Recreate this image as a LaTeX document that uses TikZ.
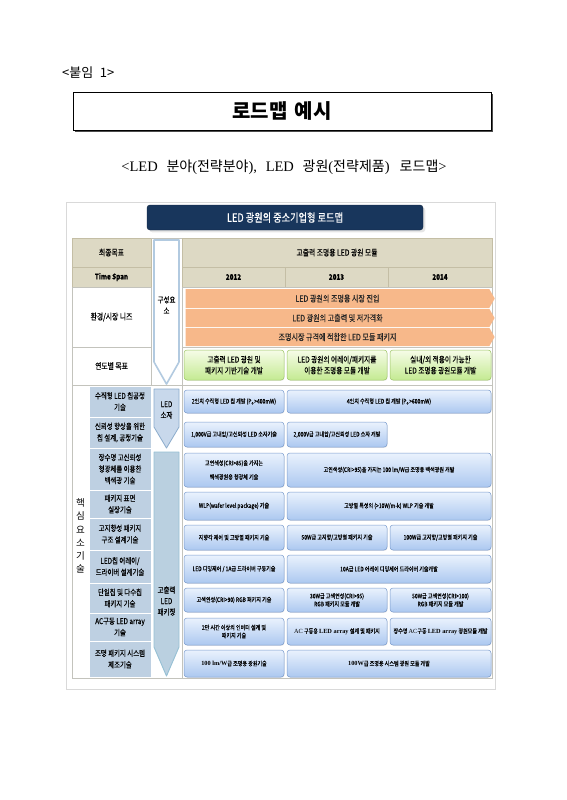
\documentclass[tikz,border=0pt]{standalone}
\usepackage{fontspec}
\setmainfont{Liberation Serif}
\newfontfamily\kr{Noto Sans CJK KR}
\newfontfamily\krc[FakeStretch=0.8, FakeBold=0.35]{Noto Sans CJK KR}
\usetikzlibrary{shapes.symbols,shadows}
\definecolor{tanc}{RGB}{221,217,196}
\definecolor{tanline}{RGB}{196,190,165}
\definecolor{gridc}{RGB}{195,195,188}
\definecolor{navy}{RGB}{24,54,92}
\definecolor{bluetop}{RGB}{234,242,253}
\definecolor{bluebot}{RGB}{172,200,240}
\definecolor{blueline}{RGB}{122,156,206}
\definecolor{greentop}{RGB}{246,252,232}
\definecolor{greenbot}{RGB}{196,234,146}
\definecolor{greenline}{RGB}{158,198,102}
\definecolor{orangec}{RGB}{247,184,138}
\definecolor{leftblue}{RGB}{190,208,226}
\definecolor{chevline}{RGB}{178,202,224}
\definecolor{chevfill}{RGB}{200,216,235}
\definecolor{chevline2}{RGB}{140,172,204}
\definecolor{chevfill3}{RGB}{186,208,224}
\definecolor{chevline3}{RGB}{150,192,212}
\newcommand\rbox[7]{\node[#6, minimum width={(#4-#2)*1pt}, minimum height={(#5-#3)*1pt}] (#1) at ({(#2+#4)/2},{(#3+#5)/2}) {#7};}
\newcommand\serb[1]{{\rmfamily\bfseries #1}}
\newcommand\hk[1]{{\kr\fontsize{14}{16}\selectfont #1}}
\tikzset{
  bluebox/.style={rounded corners=3pt, top color=bluetop, bottom color=bluebot, draw=blueline, line width=0.5pt, inner sep=1pt, align=center, font={\krc\fontsize{6.3}{8}\selectfont}, drop shadow={opacity=0.18, shadow xshift=0.6pt, shadow yshift=-0.8pt}},
  greenbox/.style={rounded corners=3pt, top color=greentop, bottom color=greenbot, draw=greenline, line width=0.5pt, inner sep=1pt, align=center, font={\krc\fontsize{8.3}{11}\selectfont}, drop shadow={opacity=0.15, shadow xshift=0.6pt, shadow yshift=-0.8pt}},
  band/.style={signal, signal to=east, signal pointer angle=120, fill=orangec, inner sep=0pt, font={\krc\fontsize{8.8}{10}\selectfont}, text=black!85},
  tancell/.style={fill=tanc, draw=tanline, line width=0.5pt, inner sep=0pt, font={\krc\fontsize{8.5}{10}\selectfont}},
  whitecell/.style={draw=gridc, line width=0.5pt, inner sep=0pt, font={\krc\fontsize{8.5}{10}\selectfont}},
  leftcell/.style={fill=leftblue, draw=white, line width=1pt, inner sep=0pt, align=center, font={\krc\fontsize{8}{11.5}\selectfont}},
  lbl/.style={inner sep=0pt, align=center, font={\krc\fontsize{8}{11}\selectfont}}
}
\begin{document}
\begin{tikzpicture}[x=1pt,y=-1pt]
\useasboundingbox[fill=white] (0,0) rectangle (566,800);

% page header
\node[anchor=west, inner sep=0pt, font={\kr\fontsize{13}{15}\selectfont}] (att) at (62,73) {<붙임\hspace{0.5em}1>};
\draw[line width=1.3pt, black!70] (75,131) -- (492,131) -- (492,94);
\node[draw=black, line width=0.7pt, minimum width=418pt, minimum height=38pt, inner sep=0pt, font={\kr\bfseries\fontsize{20}{22}\selectfont}] (title) at (282,111) {로드맵\hspace{0.35em}예시};
\node[inner sep=0pt, font={\fontsize{14.5}{16}\selectfont}] (sub) at (284,167) {<LED\hspace{0.6em}\hk{분야}(\hk{전략분야}),\hspace{0.6em}LED\hspace{0.6em}\hk{광원}(\hk{전략제품})\hspace{0.7em}\hk{로드맵}>};

% figure frame
\draw[black!15, line width=0.6pt] (66,202) rectangle (495,689);

% banner
\rbox{banner}{147}{205}{423}{230}{rounded corners=3pt, fill=navy, draw=navy!70!black, text=white, font={\krc\fontsize{11.5}{13}\selectfont}, drop shadow={opacity=0.2}}{LED 광원의 중소기업형 로드맵}

% table outline and header
\rbox{h1l}{72}{238}{151}{267}{tancell}{최종목표}
\rbox{h1r}{182}{238}{492}{267}{tancell}{고출력 조명용 LED 광원 모듈}
\rbox{h2l}{72}{267}{151}{287}{tancell, font={\krc\bfseries\fontsize{7.8}{9}\selectfont}}{Time Span}
\rbox{y12}{182}{267}{285}{287}{tancell, font={\krc\bfseries\fontsize{7.8}{9}\selectfont}}{2012}
\rbox{y13}{285}{267}{388}{287}{tancell, font={\krc\bfseries\fontsize{7.8}{9}\selectfont}}{2013}
\rbox{y14}{388}{267}{492}{287}{tancell, font={\krc\bfseries\fontsize{7.8}{9}\selectfont}}{2014}
\rbox{envl}{72}{287}{151}{347}{whitecell}{환경/시장 니즈}
\rbox{goall}{72}{347}{151}{385}{whitecell}{연도별 목표}
\draw[gridc, line width=0.5pt] (151,238) -- (182,238);
\draw[gridc, line width=0.5pt] (182,287) -- (492,287) -- (492,678) -- (72,678) -- (72,385) -- (492,385);
\draw[gridc, line width=0.5pt] (182,347) -- (492,347);
\draw[gridc, line width=0.5pt] (182,287) -- (182,678);
\draw[gridc, line width=0.5pt] (89,385) -- (89,678);

% core left cells
\rbox{c1}{89}{386}{151}{417}{leftcell}{수직형 LED 칩공정\\기술}
\rbox{c2}{89}{417}{151}{448}{leftcell}{신뢰성 향상을 위한\\칩 설계, 공정기술}
\rbox{c3}{89}{448}{151}{490}{leftcell}{장수명 고신뢰성\\형광체를 이용한\\백색광 기술}
\rbox{c4}{89}{490}{151}{518}{leftcell}{패키지 표면\\실장기술}
\rbox{c5}{89}{518}{151}{550}{leftcell}{고지향성 패키지\\구조 설계기술}
\rbox{c6}{89}{550}{151}{583}{leftcell}{LED칩 어레이/\\드라이버 설계기술}
\rbox{c7}{89}{583}{151}{613}{leftcell}{단일칩 및 다수칩\\패키지 기술}
\rbox{c8}{89}{613}{151}{641}{leftcell}{AC구동 LED array\\기술}
\rbox{c9}{89}{641}{151}{677}{leftcell}{조명 패키지 시스템\\제조기술}
\node[inner sep=0pt, align=center, font={\kr\fontsize{9.5}{13.2}\selectfont}] (core) at (80.5,536) {핵\\심\\요\\소\\기\\술};

% chevrons
\draw[fill=white, draw=chevline, line width=1.6pt, line join=round] (154,240) -- (179,240) -- (179,362) -- (166.5,384) -- (154,362) -- cycle;
\node[lbl] (chev1) at (166.5,305) {구성요\\소};
\draw[fill=chevfill, draw=chevline2, line width=0.8pt, line join=round] (154,389) -- (179,389) -- (179,427) -- (166.5,448) -- (154,427) -- cycle;
\node[lbl] (chev2) at (166.5,410) {LED\\소자};
\draw[fill=chevfill3, draw=chevline3, line width=0.9pt, line join=round] (154,452) -- (179,452) -- (179,647) -- (166.5,676) -- (154,647) -- cycle;
\node[lbl] (chev3) at (166.5,601) {고출력\\LED\\패키징};

% orange bands
\rbox{b1}{183}{289}{492}{308}{band}{LED 광원의 조명용 시장 진입}
\rbox{b2}{183}{309}{492}{327}{band}{LED 광원의 고출력 및 저가격화}
\rbox{b3}{183}{328}{492}{346}{band}{조명시장 규격에 적합한 LED 모듈 패키지}

% yearly goals
\rbox{g1}{184}{350}{284}{380}{greenbox}{고출력 LED 광원 및\\패키지 기반기술 개발}
\rbox{g2}{287}{350}{387}{380}{greenbox}{LED 광원의 어레이/패키지를\\이용한 조명용 모듈 개발}
\rbox{g3}{390}{350}{491}{380}{greenbox}{실내/외 적용이 가능한\\LED 조명용 광원모듈 개발}

% blue boxes
\rbox{r1a}{184}{390}{284}{413}{bluebox}{2인치 수직형 LED 칩 개발 (P\textsubscript{o}>400mW)}
\rbox{r1b}{287}{390}{491}{413}{bluebox}{4인치 수직형 LED 칩 개발 (P\textsubscript{o}>600mW)}
\rbox{r2a}{184}{422}{284}{447}{bluebox}{1,000V급 고내압/고신뢰성 LED 소자기술}
\rbox{r2b}{287}{422}{387}{447}{bluebox}{2,000V급 고내압/고신뢰성 LED 소자 개발}
\rbox{r3a}{184}{453}{284}{487}{bluebox, font={\krc\fontsize{6.3}{14}\selectfont}}{고연색성(CRI>85)을 가지는\\백색광원용 형광체 기술}
\rbox{r3b}{287}{453}{491}{487}{bluebox}{고연색성(CRI>95)을 가지는 100 lm/W급 조명용 백색광원 개발}
\rbox{r4a}{184}{492}{284}{520}{bluebox}{WLP(wafer level package) 기술}
\rbox{r4b}{287}{492}{491}{520}{bluebox}{고방열 특성의 (>10W/m-k) WLP 기술 개발}
\rbox{r5a}{184}{525}{284}{550}{bluebox}{지향각 제어 및 고방열 패키지 기술}
\rbox{r5b}{287}{525}{387}{550}{bluebox}{50W급 고지향/고방열 패키지 기술}
\rbox{r5c}{390}{525}{491}{550}{bluebox}{100W급 고지향/고방열 패키지 기술}
\rbox{r6a}{184}{555}{284}{583}{bluebox}{LED 디밍제어 / 1A급 드라이버 구동기술}
\rbox{r6b}{287}{555}{491}{583}{bluebox}{10A급 LED 어레이 디밍제어 드라이버 기술개발}
\rbox{r7a}{184}{588}{284}{612}{bluebox}{고색연성(CRI>90) RGB 패키지 기술}
\rbox{r7b}{287}{588}{387}{612}{bluebox}{30W급 고색연성(CRI>95)\\RGB 패키지 모듈 개발}
\rbox{r7c}{390}{588}{491}{612}{bluebox}{50W급 고색연성(CRI>100)\\RGB 패키지 모듈 개발}
\rbox{r8a}{184}{618}{284}{645}{bluebox}{2만 시간 이상의 인버터 설계 및\\패키지 기술}
\rbox{r8b}{287}{618}{387}{645}{bluebox}{{\rmfamily AC} 구동용 \serb{LED array} 설계 및 패키지}
\rbox{r8c}{390}{618}{491}{645}{bluebox}{장수명 {\rmfamily AC}구동 \serb{LED array} 광원모듈 개발}
\rbox{r9a}{184}{650}{284}{677}{bluebox}{\serb{100 lm/W}급 조명용 광원기술}
\rbox{r9b}{287}{650}{491}{677}{bluebox}{\serb{100W}급 조명용 시스템 광원 모듈 개발}
\end{tikzpicture}
\end{document}
